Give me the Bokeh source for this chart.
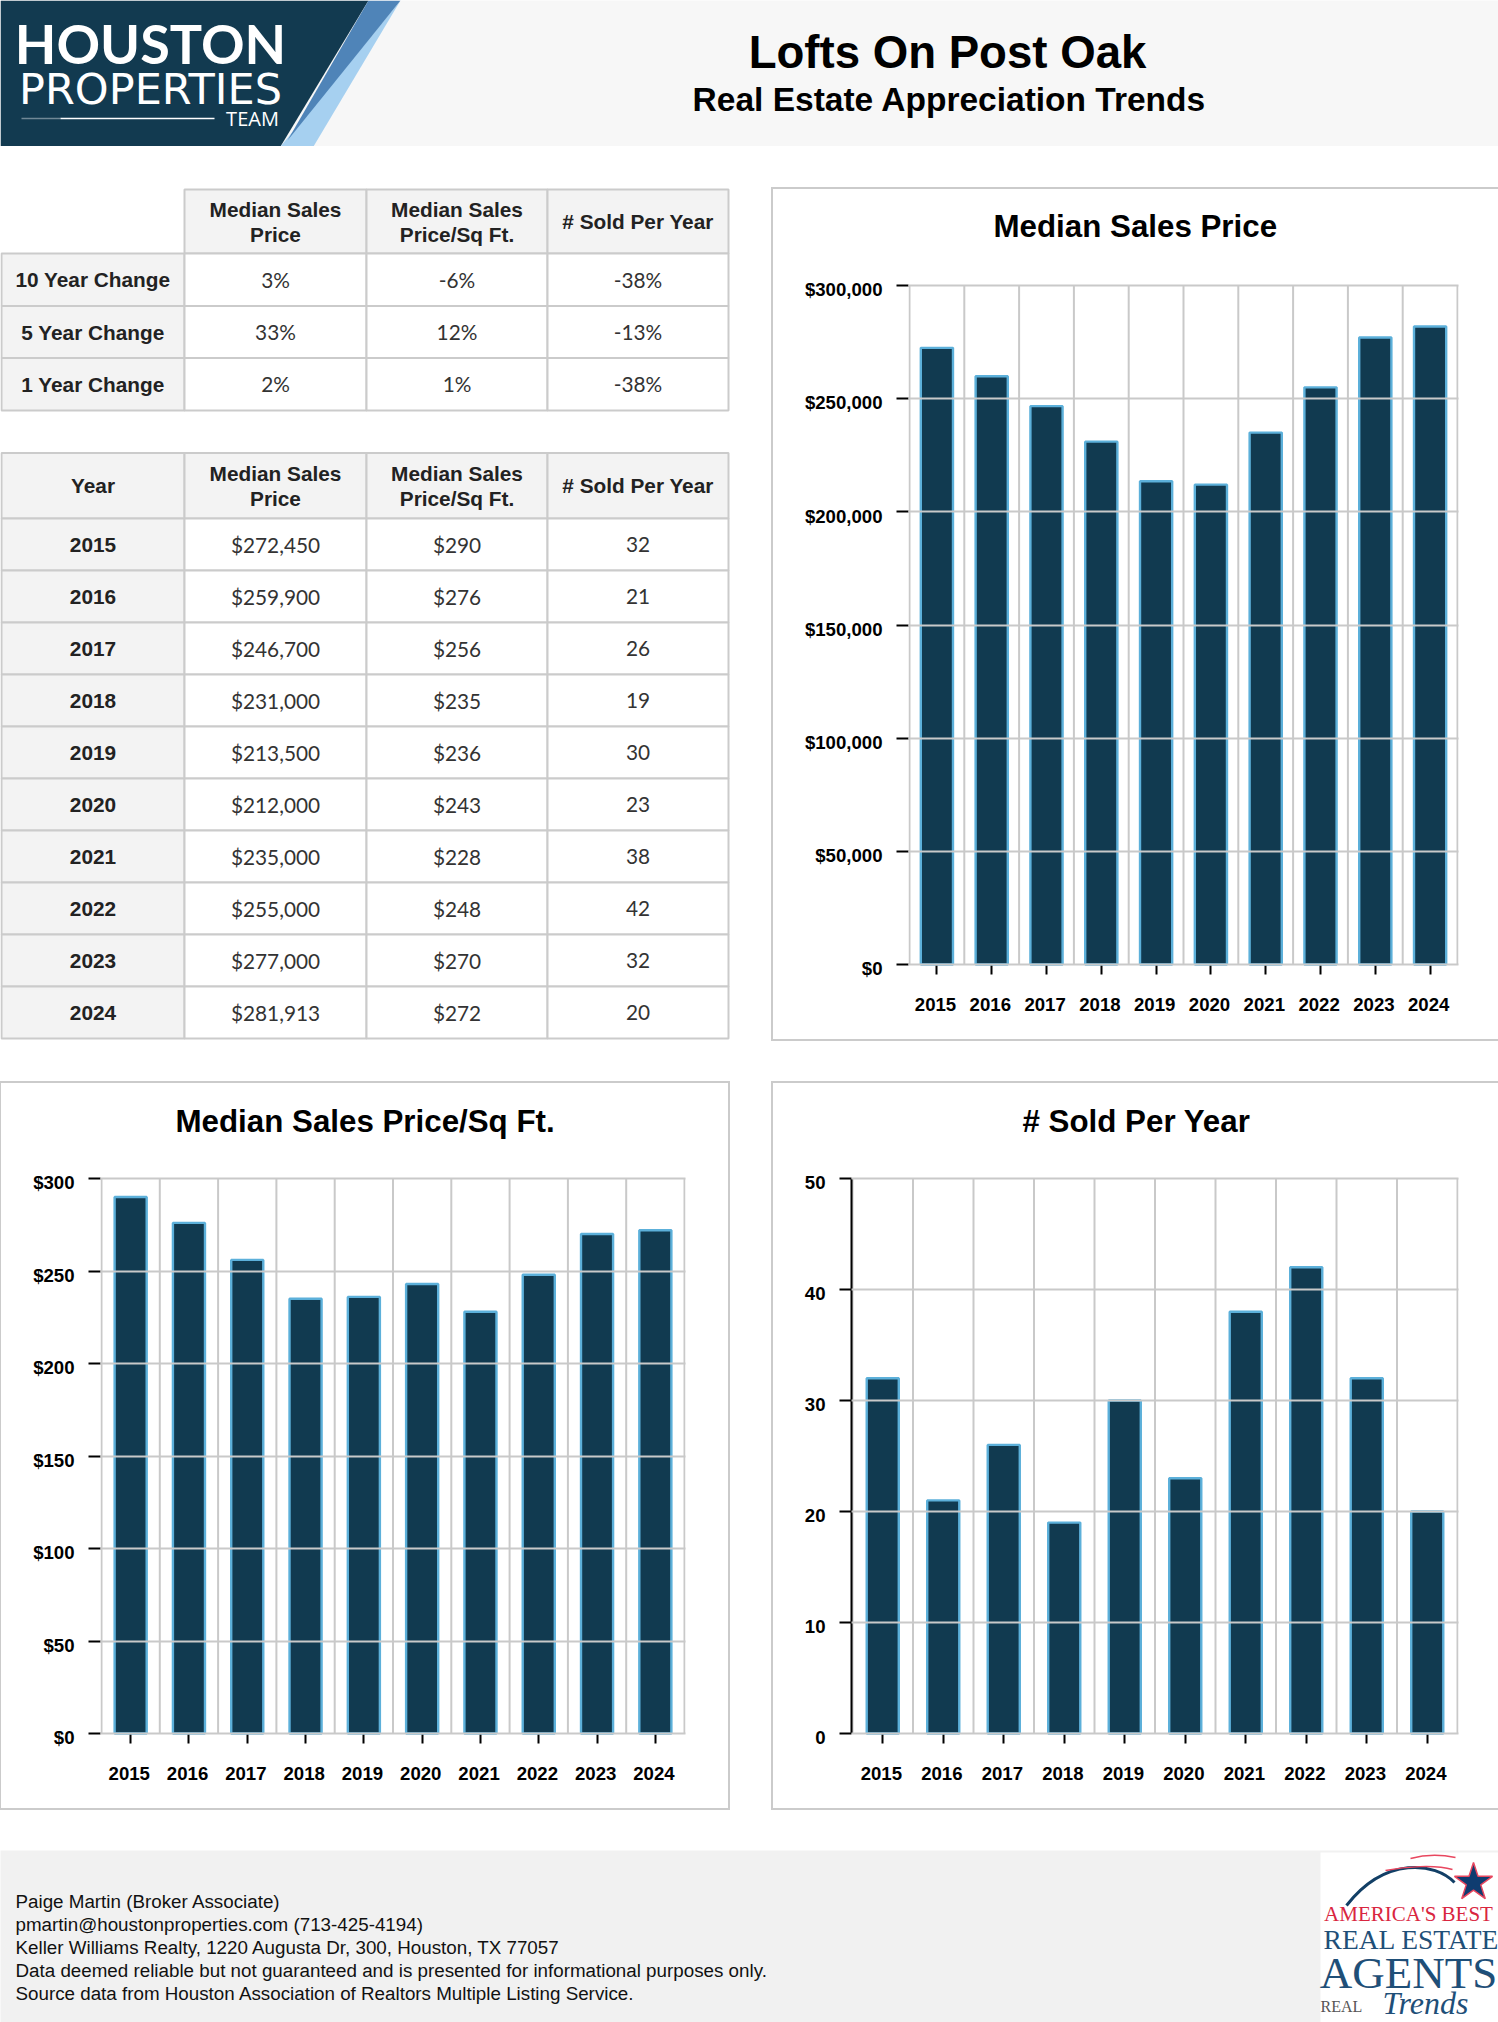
from bokeh.plotting import figure
from bokeh.layouts import column, row
from bokeh.models import (Range1d, LinearAxis, FixedTicker, NumeralTickFormatter, PrintfTickFormatter,
                          Grid, Title)
from bokeh.core.properties import value
from bokeh.embed import file_html
from bokeh.resources import INLINE

# ---------- data ----------
years = [2015, 2016, 2017, 2018, 2019, 2020, 2021, 2022, 2023, 2024]
median_price = [272450, 259900, 246700, 231000, 213500, 212000, 235000, 255000, 277000, 281913]
price_sqft = [290, 276, 256, 235, 236, 243, 228, 248, 270, 272]
sold_per_year = [32, 21, 26, 19, 30, 23, 38, 42, 32, 20]
price_ticks = [0, 50000, 100000, 150000, 200000, 250000, 300000]
sqft_ticks = [0, 50, 100, 150, 200, 250, 300]
sold_ticks = [0, 10, 20, 30, 40, 50]
col_heads = ["Median Sales\nPrice", "Median Sales\nPrice/Sq Ft.", "# Sold Per Year"]
change_labels = ["10 Year Change", "5 Year Change", "1 Year Change"]
change_price = ["3%", "33%", "2%"]
change_sqft = ["-6%", "12%", "1%"]
change_sold = ["-38%", "-13%", "-38%"]
footer_lines = ["Paige Martin (Broker Associate)",
                "pmartin@houstonproperties.com (713-425-4194)",
                "Keller Williams Realty, 1220 Augusta Dr, 300, Houston, TX 77057",
                "Data deemed reliable but not guaranteed and is presented for informational purposes only.",
                "Source data from Houston Association of Realtors Multiple Listing Service."]

# ---------- style ----------
SANS = "Liberation Sans"
GRID = "#c9c9c9"
NAVY = "#113a50"
EDGE = "#5cb0da"
HEAD = "#f3f3f3"
BORDER = "#cbcbcb"


def canvas(w, h, x0, y0, bg="#ffffff"):
    p = figure(width=w, height=h, x_range=Range1d(x0, x0 + w), y_range=Range1d(y0 + h, y0),
               output_backend="svg", toolbar_location=None, min_border=0,
               x_axis_type=None, y_axis_type=None, frame_align=False,
               background_fill_color=bg, border_fill_color=bg, outline_line_color=None)
    p.grid.visible = False
    return p


def put(p, x, y, txt, size, bold=False, font=SANS, color="#000000", align="center", style=None):
    p.text([x], [y], text=[txt], text_font=value(font), text_font_size=f"{size}px",
           text_font_style=style or ("bold" if bold else "normal"), text_color=color,
           text_align=align, text_baseline="middle")


# ---------- header ----------
hd = canvas(1498, 146, 0, 0, "#f7f7f7")
hd.patch([0, 368, 280, 0], [0, 0, 146, 146], fill_color="#123a50", line_color=None)
hd.patch([400, 313, 280], [0, 146, 146], fill_color="#a6d0f0", line_color=None)
hd.patch([368, 400, 287], [0, 0, 140], fill_color="#4f84b8", line_color=None)
put(hd, 150, 43, "HOUSTON", 54, bold=True, font="Lato", color="#ffffff")
put(hd, 150, 88, "PROPERTIES", 43, font="DejaVu Sans", color="#ffffff")
put(hd, 252, 118, "TEAM", 20, font="Open Sans", color="#ffffff")
hd.line([60, 214], [118, 118], line_color="#ffffff", line_width=1.5)
hd.line([21, 60], [118, 118], line_color="#ffffff", line_width=1.5, line_alpha=0.4)
put(hd, 947, 51.5, "Lofts On Post Oak", 45.6, bold=True)
put(hd, 949, 99, "Real Estate Appreciation Trends", 33.5, bold=True)

# ---------- tables ----------
tb = canvas(750, 914, 0, 146)
cols = [1, 184, 366, 547, 728]


def cell(x0, x1, y0, y1, fill):
    tb.quad(left=[x0], right=[x1], top=[y0], bottom=[y1], fill_color=fill, line_color=BORDER, line_width=2)


def head_cell(x0, x1, y0, y1, txt):
    cell(x0, x1, y0, y1, HEAD)
    lines = txt.split("\n")
    mid = (x0 + x1) / 2
    ym = (y0 + y1) / 2
    for i, ln in enumerate(lines):
        put(tb, mid, ym + (i - (len(lines) - 1) / 2) * 25, ln, 20.8, bold=True, color="#222222")


def body_row(y0, y1, label, vals):
    cell(cols[0], cols[1], y0, y1, HEAD)
    put(tb, (cols[0] + cols[1]) / 2, (y0 + y1) / 2, label, 20.8, bold=True, color="#222222")
    for j, v in enumerate(vals):
        cell(cols[j + 1], cols[j + 2], y0, y1, "#ffffff")
        put(tb, (cols[j + 1] + cols[j + 2]) / 2, (y0 + y1) / 2 - 0.4, v, 20.8, font="Lato", color="#333333")


for j, h in enumerate(col_heads):
    head_cell(cols[j + 1], cols[j + 2], 189, 253, h)
edges1 = [253, 305.5, 357.5, 410]
for i, lab in enumerate(change_labels):
    body_row(edges1[i], edges1[i + 1], lab, [change_price[i], change_sqft[i], change_sold[i]])

head_cell(cols[0], cols[1], 452.5, 518, "Year")
for j, h in enumerate(col_heads):
    head_cell(cols[j + 1], cols[j + 2], 452.5, 518, h)
for i, yr in enumerate(years):
    y0 = 518 + 52 * i
    body_row(y0, y0 + 52, str(yr), [f"${median_price[i]:,}", f"${price_sqft[i]}", str(sold_per_year[i])])


# ---------- charts ----------
def chart(title, vals, ticks, fmt, w, h, L, R, T, B, margin, bar_w, title_off, title_lift, y_axis_line=False):
    top = ticks[-1]
    pad_px = 1                       # 1px of room so the edge grid lines are not clipped by the frame
    ext_px = 5                       # frame runs on a little below zero, so the shifted "$0" label survives
    L, R, T = L - pad_px, R - pad_px, T - pad_px
    plot_px = h - T - B - ext_px - pad_px
    per_px = top / plot_px
    per_xpx = len(years) / (w - L - R - 2 * pad_px)
    x0, x1 = years[0] - 0.5 - pad_px * per_xpx, years[-1] + 0.5 + pad_px * per_xpx
    y0, y1 = -ext_px * per_px, top + pad_px * per_px
    p = figure(width=w, height=h, x_range=Range1d(x0, x1), y_range=Range1d(y0, y1),
               output_backend="svg", toolbar_location=None, frame_align=False, margin=margin,
               min_border_left=L, min_border_right=R, min_border_top=T, min_border_bottom=B,
               background_fill_color="#ffffff", border_fill_color="#ffffff", outline_line_color=None,
               styles={"outline": f"2px solid {BORDER}", "outline-offset": "0px"})

    # vertical band lines under the bars, horizontal grid over them
    bands = [y - 0.5 for y in years] + [years[-1] + 0.5]
    p.segment(x0=bands, y0=[0] * len(bands), x1=bands, y1=[top] * len(bands), line_color=GRID, line_width=2)
    p.vbar(x=years, top=vals, width=bar_w, bottom=0, fill_color=NAVY, line_color=EDGE, line_width=2.4)

    # ticks on the data scale
    ya = p.yaxis[0]
    ya.ticker = FixedTicker(ticks=ticks)
    ya.bounds = (0, top)
    ya.major_tick_in = 0
    ya.major_tick_out = 12
    ya.major_tick_line_color = "#000000"
    ya.major_tick_line_width = 2
    ya.minor_tick_line_color = None
    ya.major_label_overrides = {t: "" for t in ticks}
    ya.major_label_standoff = 0
    ya.axis_line_color = "#000000" if y_axis_line else None
    ya.axis_line_width = 2

    xa = p.xaxis[0]
    xa.ticker = FixedTicker(ticks=years)
    xa.major_tick_in = 4
    xa.major_tick_out = 5
    xa.major_tick_line_color = "#000000"
    xa.major_tick_line_width = 2
    xa.minor_tick_line_color = None
    xa.axis_line_color = None
    xa.major_label_overrides = {y: "" for y in years}
    xa.major_label_standoff = 0

    # labels sit slightly off their ticks in the reference: separate label axes
    ys = 4.3 * per_px
    xs = 1.4 * per_xpx
    p.extra_y_ranges = {"lab": Range1d(y0 + ys, y1 + ys)}
    p.extra_x_ranges = {"lab": Range1d(x0 + xs, x1 + xs)}
    yl = LinearAxis(y_range_name="lab", ticker=FixedTicker(ticks=ticks), formatter=NumeralTickFormatter(format=fmt),
                    axis_line_color=None, major_tick_line_color=None, minor_tick_line_color=None,
                    major_tick_out=0, major_tick_in=0, major_label_standoff=15 - pad_px,
                    major_label_text_font=SANS, major_label_text_font_style="bold",
                    major_label_text_font_size="18.6px", major_label_text_color="#000000")
    xl = LinearAxis(x_range_name="lab", ticker=FixedTicker(ticks=years), formatter=PrintfTickFormatter(format="%d"),
                    axis_line_color=None, major_tick_line_color=None, minor_tick_line_color=None,
                    major_tick_out=0, major_tick_in=0, major_label_standoff=23,
                    major_label_text_font=SANS, major_label_text_font_style="bold",
                    major_label_text_font_size="18.6px", major_label_text_color="#000000")
    p.add_layout(yl, "left")
    p.add_layout(xl, "below")

    p.xgrid.visible = False
    p.ygrid.visible = False
    p.add_layout(Grid(dimension=1, ticker=FixedTicker(ticks=ticks), grid_line_color=GRID, grid_line_width=2,
                      level="annotation"))

    # an unlabelled axis above the frame holds the title clear of the plot
    p.add_layout(LinearAxis(ticker=FixedTicker(ticks=[years[0]]), major_tick_out=title_lift, major_tick_in=0,
                            major_label_overrides={years[0]: ""}, major_label_standoff=0,
                            major_label_text_font_size="1px",
                            major_tick_line_color="#ffffff", major_tick_line_alpha=0.01,
                            minor_tick_line_color=None, axis_line_color=None), "above")
    p.title = Title(text=title, align="left", offset=title_off, standoff=0, text_font=SANS,
                    text_font_style="bold", text_font_size="31.3px", text_color="#000000")
    return p


c1 = chart("Median Sales Price", median_price, price_ticks, "$0,0", 725, 850, 136, 41, 96, 70,
           (43, 0, 21, 23), 0.587, 85, 41)
c2 = chart("Median Sales Price/Sq Ft.", price_sqft, sqft_ticks, "$0,0", 727, 725, 100, 44, 95, 70,
           (23, 22, 42, 1), 0.55, 75, 39)
c3 = chart("# Sold Per Year", sold_per_year, sold_ticks, "0", 725, 725, 79, 41, 95, 70,
           (23, 0, 42, 23), 0.53, 171, 39, y_axis_line=True)

# ---------- footer ----------
ft = canvas(1498, 172, 0, 1850, "#f1f1f1")
for i, ln in enumerate(footer_lines):
    put(ft, 15, 1901 + 23 * i, ln, 18.8, color="#111111", align="left")
ft.quad(left=[1320], right=[1498], top=[1852], bottom=[2022], fill_color="#ffffff", line_color=None)
ft.bezier(x0=[1346], y0=[1905], x1=[1454], y1=[1882], cx0=[1385], cy0=[1855], cx1=[1435], cy1=[1862],
          line_color="#123f66", line_width=3)
ft.bezier(x0=[1385], y0=[1870], x1=[1452], y1=[1869], cx0=[1405], cy0=[1866], cx1=[1435], cy1=[1864],
          line_color="#e8475f", line_width=1.5)
ft.bezier(x0=[1410], y0=[1858], x1=[1455], y1=[1857], cx0=[1425], cy0=[1854], cx1=[1440], cy1=[1854],
          line_color="#e8475f", line_width=1.5)
ft.scatter([1473], [1882], marker="star", size=40, fill_color="#0f3c70", line_color="#e8475f", line_width=1.5)
put(ft, 1408, 1913, "AMERICA'S BEST", 21, font="Liberation Serif", color="#d9263f")
put(ft, 1411, 1939, "REAL ESTATE", 27.5, font="Liberation Serif", color="#1f4f78")
put(ft, 1408, 1972, "AGENTS", 45, font="Liberation Serif", color="#1f4f78")
put(ft, 1341, 2006, "REAL", 16, font="Liberation Serif", color="#555555")
put(ft, 1425, 2002, "Trends", 32, font="Liberation Serif", color="#1f4f78", style="italic")

page = column(hd, row(tb, c1), row(c2, c3), ft)
open("out.html", "w").write(file_html(page, INLINE))
